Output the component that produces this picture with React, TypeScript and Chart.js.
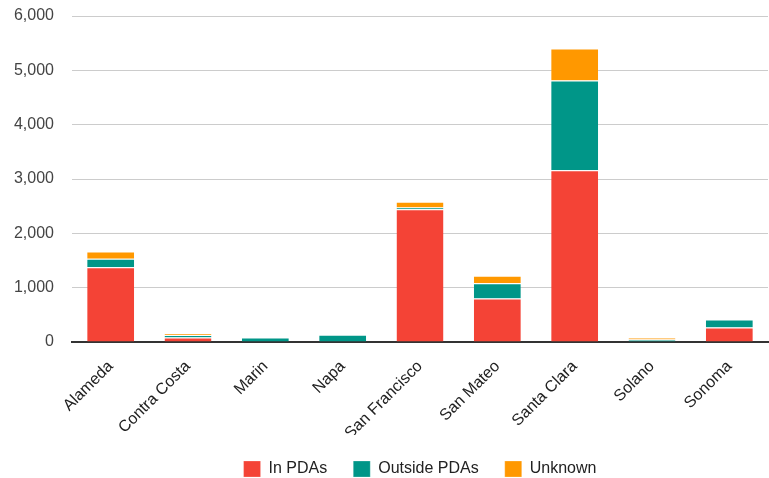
import React, { useEffect, useRef } from "react";
import { Chart, registerables } from "chart.js";

Chart.register(...registerables);

const categories = [
  "Alameda",
  "Contra Costa",
  "Marin",
  "Napa",
  "San Francisco",
  "San Mateo",
  "Santa Clara",
  "Solano",
  "Sonoma",
];
const inPDAs = [1375, 85, 0, 0, 2445, 800, 3160, 0, 265];
const outsidePDAs = [155, 45, 85, 135, 30, 280, 1655, 45, 150];
const unknown = [135, 25, 0, 0, 105, 140, 585, 40, 0];
const seriesNames = ["In PDAs", "Outside PDAs", "Unknown"];
const seriesColors = ["#F44336", "#009688", "#FF9800"];
const yTicksMax = 6000;
const yTicksStep = 1000;

export default function App() {
  const ref = useRef<HTMLCanvasElement | null>(null);
  useEffect(() => {
    if (!ref.current) return;
    const font = "Arial, 'Liberation Sans', sans-serif";
    const seriesData = [inPDAs, outsidePDAs, unknown];
    const chart = new Chart(ref.current, {
      type: "bar",
      data: {
        labels: categories,
        datasets: seriesNames.map((name, i) => ({
          label: name,
          data: seriesData[i],
          backgroundColor: seriesColors[i],
          borderColor: "#ffffff",
          borderWidth: { top: 1, left: 0, right: 0, bottom: 0 },
          borderSkipped: false,
          categoryPercentage: 1,
          barPercentage: 0.607,
        })),
      },
      options: {
        animation: false,
        responsive: false,
        maintainAspectRatio: false,
        layout: { padding: { top: 16, right: 1, left: 0, bottom: -9 } },
        plugins: {
          legend: {
            position: "bottom",
            fullSize: false,
            labels: {
              boxWidth: 17,
              boxHeight: 16,
              padding: 26,
              color: "#222",
              font: { family: font, size: 16 },
            },
          },
          tooltip: { enabled: false },
        },
        scales: {
          x: {
            stacked: true,
            grid: { display: false },
            border: { color: "#333", width: 2 },
            ticks: {
              maxRotation: 45,
              minRotation: 45,
              color: "#222",
              font: { family: font, size: 16 },
              padding: 7,
            },
            afterFit: (s: any) => {
              s.height = 93;
            },
          },
          y: {
            stacked: true,
            min: 0,
            max: yTicksMax,
            ticks: {
              stepSize: yTicksStep,
              color: "#444",
              padding: 0,
              font: { family: font, size: 16 },
            },
            grid: {
              color: "#ccc",
              drawTicks: true,
              tickLength: 18,
              tickColor: "rgba(0,0,0,0)",
            },
            border: { display: false },
            afterFit: (s: any) => {
              s.width = 72;
            },
          },
        },
      },
    });
    return () => chart.destroy();
  }, []);
  return (
    <div style={{ position: "absolute", left: 0, top: 0, width: 769, height: 478 }}>
      <canvas ref={ref} width={769} height={478} />
    </div>
  );
}
